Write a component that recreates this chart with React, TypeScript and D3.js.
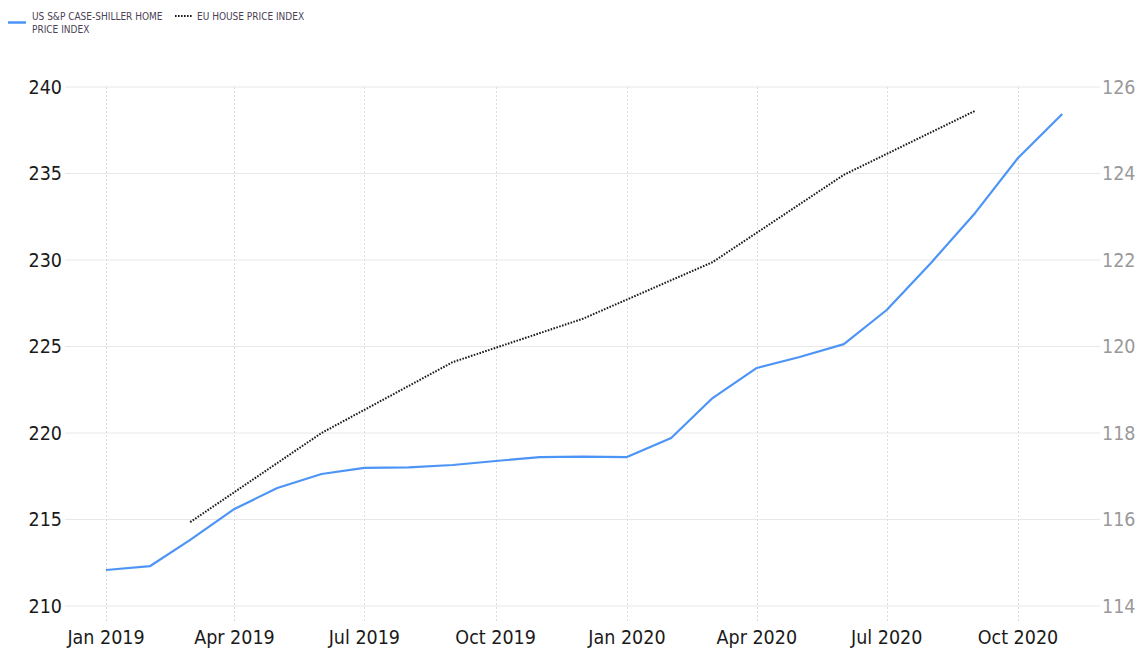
import React from "react";
import * as d3 from "d3";

const usMonths: string[] = [
  "2019-01", "2019-02", "2019-03", "2019-04", "2019-05", "2019-06", "2019-07", "2019-08",
  "2019-09", "2019-10", "2019-11", "2019-12", "2020-01", "2020-02", "2020-03", "2020-04",
  "2020-05", "2020-06", "2020-07", "2020-08", "2020-09", "2020-10", "2020-11",
];
const usValues: number[] = [
  212.08, 212.31, 213.82, 215.61, 216.82, 217.63, 217.98, 218.01,
  218.15, 218.38, 218.61, 218.64, 218.61, 219.71, 222.02, 223.76,
  224.39, 225.14, 227.11, 229.83, 232.72, 235.9, 238.44,
];
const euMonths: string[] = ["2019-03", "2019-06", "2019-09", "2019-12", "2020-03", "2020-06", "2020-09"];
const euValues: number[] = [115.94, 118.0, 119.64, 120.64, 121.95, 123.97, 125.45];

const leftTicks: number[] = [210, 215, 220, 225, 230, 235, 240];
const rightTicks: number[] = [114, 116, 118, 120, 122, 124, 126];
const xTickMonths: string[] = ["2019-01", "2019-04", "2019-07", "2019-10", "2020-01", "2020-04", "2020-07", "2020-10"];

const usLabel = ["US S&P CASE-SHILLER HOME", "PRICE INDEX"];
const euLabel = "EU HOUSE PRICE INDEX";

const parse = d3.timeParse("%Y-%m");
const fmt = d3.timeFormat("%b %Y");

export default function App() {
  const W = 1143, H = 653;
  const x = d3.scaleTime().domain([parse("2019-01")!, parse("2020-10")!]).range([106, 1018]);
  const yL = d3.scaleLinear().domain([210, 240]).range([606, 87]);
  const yR = d3.scaleLinear().domain([114, 126]).range([606, 87]);
  const gridX0 = 65, gridX1 = 1100;
  const font = "'DejaVu Sans Condensed', 'DejaVu Sans', sans-serif";

  const usData = usMonths.map((m, i) => ({ d: parse(m)!, v: usValues[i] }));
  const euData = euMonths.map((m, i) => ({ d: parse(m)!, v: euValues[i] }));

  const usLine = d3.line<{ d: Date; v: number }>().x(p => x(p.d)).y(p => yL(p.v));
  const euLine = d3.line<{ d: Date; v: number }>().x(p => x(p.d)).y(p => yR(p.v));

  return (
    <svg width={W} height={H} style={{ position: "absolute", left: 0, top: 0, background: "#fff" }}>
      {/* horizontal grid */}
      {leftTicks.map(t => (
        <line key={"h" + t} x1={gridX0} x2={gridX1} y1={yL(t)} y2={yL(t)} stroke="#e8e8e8" strokeWidth={1} />
      ))}
      {/* vertical grid */}
      {xTickMonths.map(m => {
        const xx = Math.round(x(parse(m)!)) + 0.5;
        return <line key={"v" + m} x1={xx} x2={xx} y1={87} y2={622} stroke="#dcdcdc" strokeWidth={1} strokeDasharray="2,2" />;
      })}
      {/* left axis labels */}
      {leftTicks.map(t => (
        <text key={"l" + t} x={62} y={yL(t)} dy="0.35em" textAnchor="end" fontFamily={font} fontSize={19.5} fill="#1a1a1a">{t}</text>
      ))}
      {/* right axis labels */}
      {rightTicks.map(t => (
        <text key={"r" + t} x={1102} y={yR(t)} dy="0.35em" textAnchor="start" fontFamily={font} fontSize={19.5} fill="#999">{t}</text>
      ))}
      {/* x axis labels */}
      {xTickMonths.map(m => (
        <text key={"x" + m} x={x(parse(m)!)} y={644} textAnchor="middle" fontFamily={font} fontSize={19.5} fill="#1a1a1a">{fmt(parse(m)!)}</text>
      ))}
      {/* series */}
      <path d={euLine(euData)!} fill="none" stroke="#1a1a1a" strokeWidth={2} strokeDasharray="1.6,1.4" />
      <path d={usLine(usData)!} fill="none" stroke="#4d94f7" strokeWidth={2.2} strokeLinejoin="round" />
      {/* legend */}
      <line x1={8} x2={26} y1={22.5} y2={22.5} stroke="#4d94f7" strokeWidth={2.5} />
      <text x={32} y={20} fontFamily={font} fontSize={10} fill="#4a3f55">{usLabel[0]}</text>
      <text x={32} y={33} fontFamily={font} fontSize={10} fill="#4a3f55">{usLabel[1]}</text>
      <line x1={175} x2={193} y1={16} y2={16} stroke="#1a1a1a" strokeWidth={2} strokeDasharray="1.6,1.4" />
      <text x={197} y={20} fontFamily={font} fontSize={10} fill="#4a3f55">{euLabel}</text>
    </svg>
  );
}
